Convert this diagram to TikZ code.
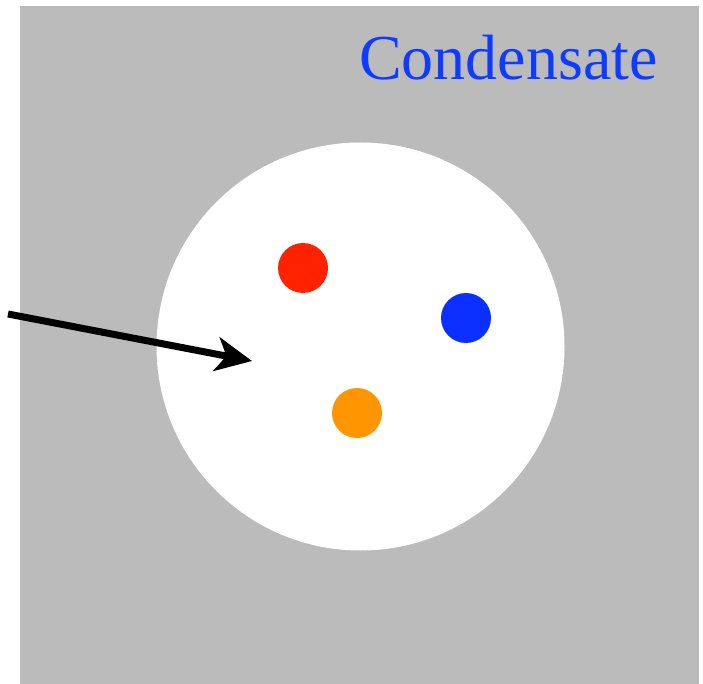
\documentclass[tikz,border=0pt]{standalone}
\usepackage{fontspec}
\newfontfamily\condfont{Liberation Serif}[UprightFont=*,BoldFont=* Bold]
\usetikzlibrary{arrows.meta}
\definecolor{bggray}{HTML}{BBBBBB}
\definecolor{condblue}{HTML}{0F3BFF}
\definecolor{dotred}{HTML}{FF2200}
\definecolor{dotblue}{HTML}{0A2FFF}
\definecolor{dotorange}{HTML}{FF9500}
\begin{document}
\begin{tikzpicture}[x=1pt,y=-1pt,
  dot/.style={circle,inner sep=0pt,minimum size=50pt},
  bigarrow/.style={line width=7pt,-{Stealth[length=36pt,width=34pt,inset=10pt]}}]
\useasboundingbox (0,0) rectangle (703,684);
\fill[bggray] (20,6) rectangle (699,684);
\node[circle,fill=white,inner sep=0pt,minimum size=408pt] (hole) at (360.5,346.5) {};
\node[anchor=base east,text=condblue,font=\condfont\fontsize{64}{70}\selectfont,inner sep=0pt] (label) at (658,80) {Condensate};
\node[dot,fill=dotred] (red) at (303,268) {};
\node[dot,fill=dotblue] (blue) at (466,318) {};
\node[dot,fill=dotorange] (orange) at (357,413) {};
\coordinate (start) at (8,314);
\coordinate (tip) at (252,361);
\draw[bigarrow] (start) -- (tip);
\end{tikzpicture}
\end{document}
